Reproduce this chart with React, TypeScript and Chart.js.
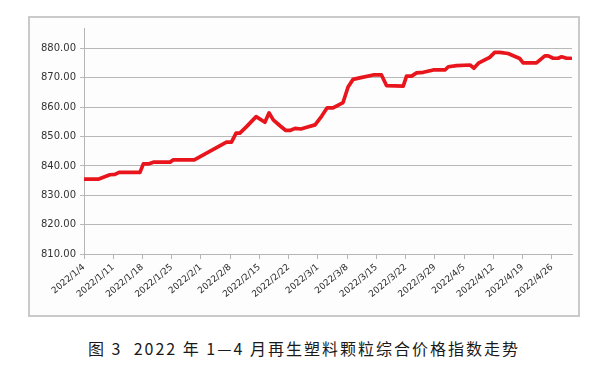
import React, { useEffect, useRef } from "react";
import { Chart, registerables } from "chart.js";

Chart.register(...registerables);

// Day offsets from 2022/1/4 and the composite price index read at each vertex
const dayOffsets = [
  0, 3.4, 6.2, 7.4, 8.4, 13.4, 14.2, 15.4, 16.6, 20.6, 21.4, 26.4, 34.1, 35.3,
  36.4, 37.3, 38.9, 41.2, 43.3, 44.3, 45.3, 46.9, 48.3, 49.3, 50.5, 51.9, 53.1,
  55.3, 56.9, 58.2, 59.6, 62, 63.2, 64.4, 66, 69.2, 71.2, 72.4, 76.4, 77.2, 78.4,
  79.6, 81.2, 83.6, 86.4, 87.2, 89.2, 92.4, 93.3, 94.4, 97.1, 98.3, 99.5, 101.5,
  104.3, 105.1, 108.3, 110.3, 111.1, 112.3, 113.5, 114.3, 115.5, 116.5,
];
const indexValues = [
  835.5, 835.5, 837.0, 837.1, 837.8, 837.8, 840.7, 840.7, 841.3, 841.3, 842.1,
  842.1, 848.1, 848.1, 851.2, 851.2, 853.4, 856.8, 854.9, 858.1, 855.7, 853.7,
  852.1, 852.1, 852.8, 852.6, 853.1, 854.0, 857.0, 859.8, 859.8, 861.6, 866.9,
  869.5, 870.0, 871.0, 871.0, 867.4, 867.2, 870.6, 870.6, 871.7, 871.9, 872.7,
  872.7, 873.8, 874.2, 874.4, 873.3, 875.0, 877.0, 878.7, 878.7, 878.3, 876.6,
  875.1, 875.1, 877.5, 877.5, 876.7, 876.7, 877.2, 876.7, 876.7,
];
const startYear = 2022;
const startMonthIndex = 0;
const startDay = 4;
const yMin = 810;
const yMax = 887;
const yStep = 10;
const yLastTick = 880;
const xStepDays = 7;
const xMaxDays = 116.8;
const caption = "图 3\u00a0\u00a02022 年 1—4 月再生塑料颗粒综合价格指数走势";

function dayLabel(offset: number): string {
  const d = new Date(startYear, startMonthIndex, startDay + offset);
  return `${d.getFullYear()}/${d.getMonth() + 1}/${d.getDate()}`;
}

export default function App() {
  const ref = useRef<HTMLCanvasElement | null>(null);

  useEffect(() => {
    if (!ref.current) return;
    const points = dayOffsets.map((x, i) => ({ x, y: indexValues[i] }));
    const chart = new Chart(ref.current, {
      type: "line",
      data: {
        datasets: [
          {
            data: points,
            borderColor: "rgb(232,22,28)",
            borderWidth: 3.7,
            pointRadius: 0,
            tension: 0,
            borderJoinStyle: "round",
            borderCapStyle: "round",
            fill: false,
          },
        ],
      },
      options: {
        animation: false,
        responsive: false,
        devicePixelRatio: 1,
        layout: { padding: { top: 7, right: 6, left: 0, bottom: 0 } },
        plugins: { legend: { display: false }, tooltip: { enabled: false } },
        scales: {
          x: {
            type: "linear",
            min: 0,
            max: xMaxDays,
            afterBuildTicks: (scale: any) => {
              scale.ticks = scale.ticks.filter(
                (t: any) => Math.abs(t.value % xStepDays) < 1e-6
              );
            },
            afterFit: (scale: any) => {
              scale.height = 61;
            },
            ticks: {
              stepSize: xStepDays,
              autoSkip: false,
              minRotation: 40,
              maxRotation: 40,
              color: "#2a2a2a",
              font: { family: "DejaVu Sans", size: 9 },
              padding: 3,
              callback: (v: any) => dayLabel(Number(v)),
            },
            grid: {
              drawOnChartArea: false,
              drawTicks: true,
              tickLength: 5,
              color: "#b5b5b5",
            },
            border: { color: "#b5b5b5", width: 1 },
          },
          y: {
            min: yMin,
            max: yMax,
            afterBuildTicks: (scale: any) => {
              scale.ticks = scale.ticks.filter((t: any) => t.value <= yLastTick);
            },
            afterFit: (scale: any) => {
              scale.width = 54;
            },
            ticks: {
              stepSize: yStep,
              color: "#333",
              font: { family: "DejaVu Sans", size: 10 },
              padding: 4,
              callback: (v: any) => Number(v).toFixed(2),
            },
            grid: {
              color: "#b8b8b8",
              tickLength: 4,
            },
            border: { color: "#b5b5b5", width: 1 },
          },
        },
      },
    });
    return () => chart.destroy();
  }, []);

  return (
    <div style={{ position: "absolute", left: 0, top: 0, width: 593, height: 377, background: "#fff" }}>
      <div
        style={{
          position: "absolute",
          left: 28,
          top: 16,
          width: 548,
          height: 297,
          border: "2px solid #cacaca",
          background: "#fdfdfd",
        }}
      >
        <canvas ref={ref} width={548} height={297} style={{ display: "block" }} />
      </div>
      <div
        style={{
          position: "absolute",
          left: 88,
          top: 336,
          whiteSpace: "nowrap",
          fontFamily: "'Noto Sans CJK SC', sans-serif",
          fontSize: 16,
          letterSpacing: 2,
          color: "#1a1a1a",
        }}
      >
        {caption}
      </div>
    </div>
  );
}
